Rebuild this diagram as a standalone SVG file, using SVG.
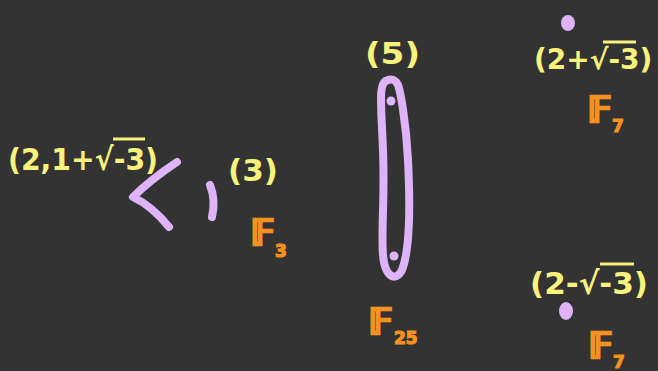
<svg xmlns="http://www.w3.org/2000/svg" width="658" height="371" viewBox="0 0 658 371">
<style>
.y{fill:#f8f27c;font-family:"DejaVu Sans",sans-serif;font-weight:bold;font-size:31px}
.o{fill:#f39220;stroke:#f39220;stroke-width:2.5;font-family:"DejaVu Sans",sans-serif;font-weight:bold;font-size:36px}
.s{fill:#f39220;stroke:#f39220;stroke-width:1.2;font-family:"DejaVu Sans",sans-serif;font-weight:bold;font-size:17px}
.p{fill:none;stroke:#deb3f7;stroke-width:8;stroke-linecap:round;stroke-linejoin:round}
.d{fill:#deb3f7}
.ov{stroke:#f8f27c;stroke-width:3}
</style>
<rect width="658" height="371" fill="#333333"/>
<g id="node-p2">
<text class="y" x="8" y="170" textLength="150" lengthAdjust="spacingAndGlyphs">(2,1+√-3)</text>
<line class="ov" x1="113" y1="139" x2="145" y2="139"/>
<path class="p" d="M177,162 Q150,180 133,197 Q152,206 169,227"/>
</g>
<g id="node-p3">
<path class="p" d="M210,185 Q216,200 212,217"/>
<text class="y" x="228" y="181" textLength="50" lengthAdjust="spacingAndGlyphs">(3)</text>
<text class="o" x="251" y="245">𝔽</text>
<text class="s" x="275" y="257">3</text>
</g>
<g id="node-p5">
<text class="y" x="365" y="64" textLength="55" lengthAdjust="spacingAndGlyphs">(5)</text>
<path class="p" d="M388,80 C378,82 381,100 383,150 C385,200 381,230 383,255 C385,278 396,282 402,270 C410,250 410,200 408,160 C406,120 400,90 398,85 C395,79 392,79 388,80 Z"/>
<circle class="d" cx="391" cy="101" r="4.5"/>
<circle class="d" cx="394" cy="256" r="4.5"/>
<text class="o" x="369" y="334">𝔽</text>
<text class="s" x="394" y="344">25</text>
</g>
<g id="node-p2plus">
<ellipse class="d" cx="568" cy="23" rx="7" ry="8"/>
<text class="y" x="534" y="69" style="font-size:28px">(2+√-3)</text>
<line class="ov" x1="603" y1="42" x2="636" y2="42"/>
<text class="o" x="588" y="122">𝔽</text>
<text class="s" x="612" y="132">7</text>
</g>
<g id="node-p2minus">
<text class="y" x="530" y="294" textLength="118" lengthAdjust="spacingAndGlyphs">(2-√-3)</text>
<line class="ov" x1="600" y1="264" x2="634" y2="264"/>
<ellipse class="d" cx="566" cy="311" rx="7" ry="9"/>
<text class="o" x="589" y="358">𝔽</text>
<text class="s" x="613" y="368">7</text>
</g>
<g id="connectors"></g>
</svg>
